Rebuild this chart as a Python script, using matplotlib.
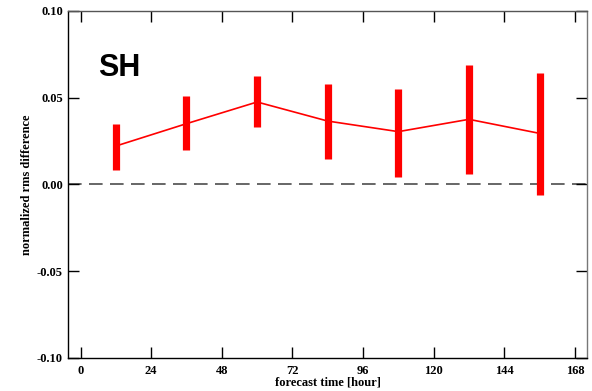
import matplotlib
matplotlib.use("Agg")
import matplotlib.pyplot as plt

hours = [12, 36, 60, 84, 108, 132, 156]
mean_vals = [0.0221, 0.0350, 0.0475, 0.0365, 0.0304, 0.0375, 0.0294]
lower_vals = [0.0083, 0.0196, 0.0329, 0.0144, 0.0044, 0.0060, -0.0063]
upper_vals = [0.0350, 0.0508, 0.0625, 0.0581, 0.0552, 0.0688, 0.0642]
xticks = [0, 24, 48, 72, 96, 120, 144, 168]
yticks = [-0.10, -0.05, 0.00, 0.05, 0.10]
ytick_labels = ["-0.10", "-0.05", "0.00", "0.05", "0.10"]

fig = plt.figure(figsize=(5.92, 3.91), dpi=100)
ax = fig.add_axes([0.1157, 0.0852, 0.8753, 0.8867])

ax.axhline(0, color="#666666", lw=1.4, dashes=(7, 3.8), zorder=1)
ax.vlines(hours, lower_vals, upper_vals, color="#ff0000", lw=5.2, zorder=2)
ax.plot(hours, mean_vals, color="#ff0000", lw=1.2, zorder=3)

ax.set_xlim(-4.1, 172)
ax.set_ylim(-0.1, 0.1)
ax.set_xticks(xticks)
ax.set_xticklabels([str(t) for t in xticks])
ax.set_yticks(yticks)
ax.set_yticklabels(ytick_labels)

fs = 9
tfont = {"family": "Liberation Serif", "weight": "bold", "size": fs}
for lab in ax.get_xticklabels() + ax.get_yticklabels():
    lab.set_fontfamily("Liberation Serif")
    lab.set_fontweight("bold")
    lab.set_fontsize(fs)

ax.tick_params(direction="in", length=7.8, width=1, top=True, right=True)
ax.tick_params(axis="y", pad=4)
ax.tick_params(axis="x", pad=5)
for s in ax.spines.values():
    s.set_linewidth(1.0)
ax.spines["right"].set_color("#777777")
ax.spines["top"].set_color("#555555")

ax.set_xlabel("forecast time [hour]", fontdict=tfont, labelpad=0)
ax.set_ylabel("normalized rms difference", fontdict=tfont, labelpad=3)

ax.text(0.058, 0.836, "SH", transform=ax.transAxes, fontsize=22,
        fontweight="bold", family="Liberation Sans", va="center", ha="left")

fig.savefig("out.png", dpi=100)
